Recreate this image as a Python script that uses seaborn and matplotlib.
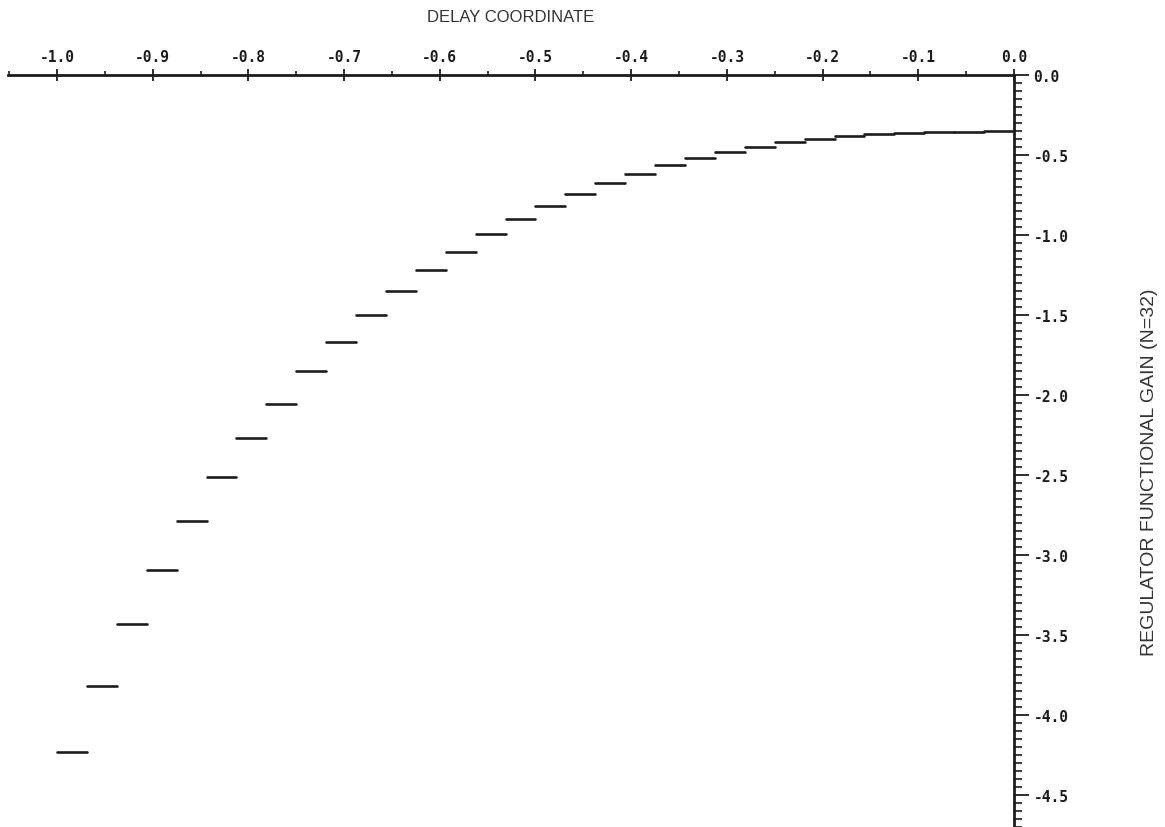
import numpy as np
import pandas as pd
import matplotlib
matplotlib.use("Agg")
import matplotlib.pyplot as plt
from matplotlib.ticker import MultipleLocator, FuncFormatter
import seaborn as sns

# Regulator functional gain, piecewise constant on N = 32 delay intervals
n_intervals = 32
delay_start = -1.0
delay_end = 0.0
gain = [-4.230, -3.817, -3.432, -3.093, -2.788, -2.512, -2.269, -2.058,
        -1.852, -1.671, -1.500, -1.352, -1.217, -1.106, -0.994, -0.902,
        -0.816, -0.742, -0.678, -0.620, -0.560, -0.517, -0.483, -0.447,
        -0.421, -0.400, -0.383, -0.370, -0.361, -0.356, -0.354, -0.353]

x_label = "DELAY COORDINATE"
y_label = "REGULATOR FUNCTIONAL GAIN (N=32)"

# one row per segment end, so each interval is drawn as its own flat line
edges = np.linspace(delay_start, delay_end, n_intervals + 1)
rows = []
for i, g in enumerate(gain):
    rows.append({"delay": edges[i], "gain": g, "interval": i})
    rows.append({"delay": edges[i + 1], "gain": g, "interval": i})
df = pd.DataFrame(rows)

sns.set_theme(style="white")
plt.rcParams["axes.unicode_minus"] = False
plt.rcParams["font.family"] = ["DejaVu Sans"]

W, H = 1165, 828
fig = plt.figure(figsize=(W / 100, H / 100), dpi=100)
fig.patch.set_facecolor("white")

# axes box: left end of delay axis to the gain axis, top axis line to bottom edge
left_px, right_px, top_px = 8, 1014, 76
ax = fig.add_axes([left_px / W, 0.0, (right_px - left_px) / W, (H - top_px) / H])
ax.set_facecolor("white")

sns.lineplot(data=df, x="delay", y="gain", units="interval", estimator=None,
             color="#1c1c1c", linewidth=1.9, legend=False, ax=ax)

ax.set_xlim(-1.0512, 0.0)
ax.set_ylim(-4.70, 0.0)

for side in ("left", "bottom"):
    ax.spines[side].set_visible(False)
for side in ("top", "right"):
    ax.spines[side].set_visible(True)
    ax.spines[side].set_color("#1c1c1c")
    ax.spines[side].set_linewidth(2.0)

ax.xaxis.tick_top()
ax.xaxis.set_label_position("top")
ax.yaxis.tick_right()
ax.yaxis.set_label_position("right")

ax.xaxis.set_major_locator(MultipleLocator(0.1))
ax.xaxis.set_minor_locator(MultipleLocator(0.05))
ax.yaxis.set_major_locator(MultipleLocator(0.5))
ax.yaxis.set_minor_locator(MultipleLocator(0.05))

fmt = FuncFormatter(lambda v, _: f"{0.0 if abs(v) < 1e-9 else v:.1f}")
ax.xaxis.set_major_formatter(fmt)
ax.yaxis.set_major_formatter(fmt)

ax.tick_params(axis="x", which="major", direction="inout", length=8, width=1.3,
               color="#1c1c1c", pad=4, top=True, bottom=False)
ax.tick_params(axis="x", which="minor", direction="out", length=3, width=1.2,
               color="#1c1c1c", top=True, bottom=False)
ax.tick_params(axis="y", which="major", direction="out", length=11, width=1.3,
               color="#1c1c1c", pad=3, right=True, left=False)
ax.tick_params(axis="y", which="minor", direction="out", length=6, width=1.2,
               color="#1c1c1c", right=True, left=False)

for lab in ax.get_xticklabels() + ax.get_yticklabels():
    lab.set_fontfamily("DejaVu Sans Mono")
    lab.set_fontweight("bold")
    lab.set_fontsize(10.5)
    lab.set_color("#1c1c1c")

ax.set_xlabel(x_label, fontsize=12, color="#333333", labelpad=20,
              family="Liberation Sans")
ax.set_ylabel(y_label, fontsize=14, color="#333333", family="Liberation Sans",
              rotation=90)
ax.yaxis.set_label_coords(1.135, 0.473)
ax.yaxis.label.set_verticalalignment("center")
ax.yaxis.label.set_horizontalalignment("center")

fig.savefig("out.png", dpi=100, facecolor="white")
